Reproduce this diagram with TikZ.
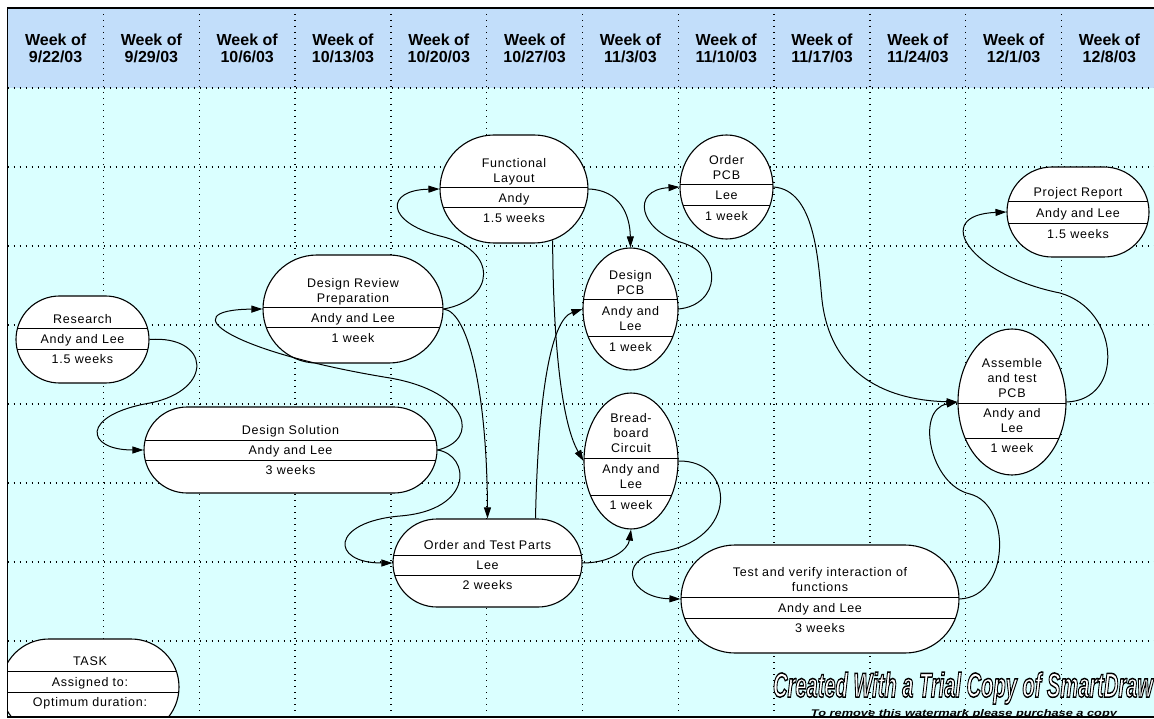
\documentclass[tikz,border=0pt]{standalone}
\usepackage{fontspec}
\setmainfont{Liberation Sans}
\newfontfamily\taskfont[LetterSpace=6]{Liberation Sans}
\usetikzlibrary{shapes.geometric,shapes.misc,arrows.meta}

\definecolor{headblue}{RGB}{194,222,250}
\definecolor{paneblue}{RGB}{218,255,255}

\newcommand{\txtlines}[1]{\begin{tabular}{@{}c@{}}#1\end{tabular}}
\newcommand{\hollowtext}[1]{%
  \special{pdf:literal direct 2 Tr 1.3 w 0 G 1 g}#1\special{pdf:literal direct 0 Tr 0 g}}
\newcommand{\tasknode}[9]{%
  \node[task,#1,bands={#4-#5}{#4-#6}] (#2) at (#3,#4) {};
  \node[txt,anchor=south] (#2-a) at (#3,#5-1) {\txtlines{#7}};
  \node[txt] (#2-b) at (#3,{(#5+#6)/2+1.5}) {\txtlines{#8}};
  \node[txt,anchor=north] (#2-c) at (#3,#6+4) {\txtlines{#9}};
}

\tikzset{
  task/.style={draw, line width=1.1pt, fill=white, inner sep=0pt},
  tasksize/.style 2 args={minimum width=#1pt, minimum height=#2pt},
  bands/.style 2 args={path picture={
    \draw[line width=1pt] ([xshift=-200pt,yshift=#1]path picture bounding box.center) -- ++(400pt,0pt)
      ([xshift=-200pt,yshift=#2]path picture bounding box.center) -- ++(400pt,0pt);}},
  txt/.style={font=\taskfont\fontsize{12.5}{15}\selectfont, inner sep=0pt},
  week/.style={font=\bfseries\fontsize{16}{17}\selectfont, inner sep=0pt},
  link/.style={line width=1pt, -{Triangle[length=11pt,width=7pt]}},
  gridline/.style={line width=1.3pt, dash pattern=on 1.3pt off 4.7pt},
}

\begin{document}
\begin{tikzpicture}[x=1pt,y=-1pt]
\useasboundingbox (0,0) rectangle (1154,719);
\clip (0,0) rectangle (1154,719);
\fill[headblue] (7.5,8) rectangle (1154,88);
\fill[paneblue] (7.5,88) rectangle (1154,717);
\foreach \k in {1,...,11}
  \draw[gridline] ({7.7+95.8*\k},8) -- ({7.7+95.8*\k},717);
\foreach \j in {0,...,7}
  \draw[gridline] (7.5,{88+79*\j}) -- (1154,{88+79*\j});
\foreach \d [count=\i from 0] in {9/22/03,9/29/03,10/6/03,10/13/03,10/20/03,10/27/03,11/3/03,11/10/03,11/17/03,11/24/03,12/1/03,12/8/03}
  \node[week] (week\i) at ({55.6+95.8*\i},51) {\txtlines{Week of\\\d}};

\tasknode{rounded rectangle,tasksize={133}{87}}{research}{82.5}{339.5}{329}{349}{Research}{Andy and Lee}{1.5 weeks}
\tasknode{rounded rectangle,tasksize={180}{108}}{review}{353}{309}{308}{328}{Design Review\\Preparation}{Andy and Lee}{1 week}
\tasknode{rounded rectangle,tasksize={293}{86}}{solution}{290.5}{450}{440}{460}{Design Solution}{Andy and Lee}{3 weeks}
\tasknode{rounded rectangle,tasksize={148}{108}}{layout}{514}{189}{188}{208}{Functional\\Layout}{Andy}{1.5 weeks}
\tasknode{ellipse,tasksize={93}{104}}{orderpcb}{726.5}{187}{185}{206}{Order\\PCB}{Lee}{1 week}
\tasknode{ellipse,tasksize={95}{122}}{designpcb}{630.5}{309}{300}{337}{Design\\PCB}{Andy and\\Lee}{1 week}
\tasknode{ellipse,tasksize={94}{136}}{breadboard}{631}{461}{458}{495}{Bread-\\board\\Circuit}{Andy and\\Lee}{1 week}
\tasknode{rounded rectangle,tasksize={189}{88}}{parts}{487.5}{563}{555}{575}{Order and Test Parts}{Lee}{2 weeks}
\tasknode{rounded rectangle,tasksize={278}{108}}{verify}{820}{599}{597}{618}{Test and verify interaction of\\functions}{Andy and Lee}{3 weeks}
\tasknode{ellipse,tasksize={108}{146}}{assemble}{1012}{402}{403}{438}{Assemble\\and test\\PCB}{Andy and\\Lee}{1 week}
\tasknode{rounded rectangle,tasksize={142}{90}}{report}{1078}{212}{202}{224}{Project Report}{Andy and Lee}{1.5 weeks}
\begin{scope}
  \clip (7.5,8) rectangle (1154,717);
  \tasknode{rounded rectangle,tasksize={178}{96}}{legend}{90}{687}{671}{692}{TASK}{Assigned to:}{Optimum duration:}
\end{scope}

\draw[link] (research.east) .. controls (210,335) and (215,390) .. (150,403) .. controls (80,415) and (85,450) .. (solution.west);
\draw[link] (solution.east) .. controls (480,440) and (470,392) .. (390,378) .. controls (230,352) and (170,310) .. (review.west);
\draw[link] (solution.east) .. controls (470,455) and (475,510) .. (400,516) .. controls (330,522) and (330,563) .. (parts.west);
\draw[link] (review.east) .. controls (495,300) and (500,250) .. (440,236) .. controls (385,222) and (385,190) .. (layout.west);
\draw[link] (review.east) .. controls (470,312) and (487,400) .. (parts.north);
\draw[link] (layout.east) .. controls (620,190) and (630,215) .. (designpcb.north);
\draw[link] (layout.-53) .. controls (553,330) and (560,420) .. (breadboard.west);
\draw[link] ([xshift=48pt]parts.north) .. controls (538,400) and (550,320) .. (designpcb.west);
\draw[link] (parts.east) .. controls (610,563) and (628,550) .. (breadboard.south);
\draw[link] (designpcb.east) .. controls (720,305) and (725,255) .. (680,242) .. controls (640,230) and (630,190) .. (orderpcb.west);
\draw[link] (orderpcb.east) .. controls (815,190) and (818,260) .. (822,300) .. controls (830,370) and (880,400) .. (assemble.west);
\draw[link] (breadboard.east) .. controls (735,460) and (740,540) .. (660,552) .. controls (615,560) and (630,598) .. (verify.west);
\draw[link] (verify.east) .. controls (1010,597) and (1012,505) .. (970,494) .. controls (930,485) and (915,410) .. (assemble.west);
\draw[link] (assemble.east) .. controls (1125,400) and (1120,310) .. (1060,293) .. controls (970,275) and (930,215) .. (report.west);

\node[anchor=base] (mark) at (963,697) {\resizebox{380pt}{25pt}{\fontsize{30}{30}\selectfont\bfseries\itshape\hollowtext{Created With a Trial Copy of SmartDraw}}};
\node[anchor=base] (notice) at (964,716) {\resizebox{306pt}{7pt}{\bfseries\itshape To remove this watermark please purchase a copy}};
\draw[line width=1.3pt] (7.5,8) rectangle (1170,717);
\end{tikzpicture}
\end{document}
